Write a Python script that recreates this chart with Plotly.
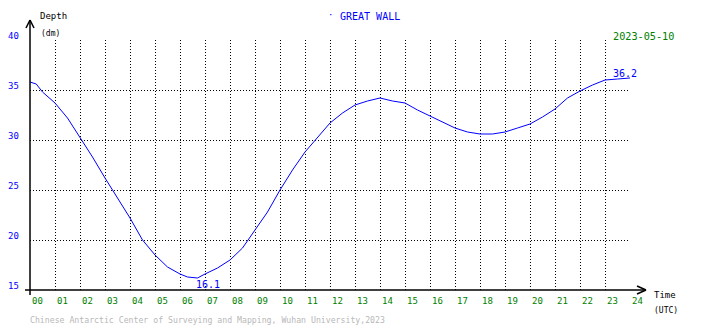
import plotly.graph_objects as go

# ---- data ----
hours = [0, 0.25, 0.5, 1, 1.5, 2, 2.5, 3, 3.5, 4, 4.5, 5, 5.5, 6, 6.3, 6.7, 7, 7.5, 8,
         8.5, 9, 9.5, 10, 10.5, 11, 11.5, 12, 12.5, 13, 13.5, 14, 14.5, 15, 15.5,
         16, 16.5, 17, 17.5, 18, 18.5, 19, 19.5, 20, 20.5, 21, 21.5, 22, 22.5, 23,
         23.5, 24]
depth = [35.8, 35.6, 34.8, 33.7, 32.2, 30.3, 28.3, 26.2, 24.2, 22.2, 20.0, 18.5, 17.3,
         16.6, 16.3, 16.2, 16.6, 17.2, 18.0, 19.2, 21.0, 22.8, 25.0, 27.0, 28.8, 30.3,
         31.7, 32.7, 33.5, 33.9, 34.2, 33.9, 33.7, 33.0, 32.4, 31.8, 31.2, 30.8, 30.6,
         30.6, 30.8, 31.2, 31.6, 32.3, 33.1, 34.2, 34.9, 35.5, 36.0, 36.1, 36.2]
x_tick_labels = ["%02d" % h for h in range(25)]
y_ticks = [15, 20, 25, 30, 35, 40]
min_label = ("16.1", 6.7, 16.1)
max_label = ("36.2", 24, 36.2)
title = "GREAT WALL"
date = "2023-05-10"
footer = "Chinese Antarctic Center of Surveying and Mapping, Wuhan University,2023"

# page body has an 8px default margin; lay out in window pixels and compensate
OFF = 8
W, H = 710 - OFF, 328 - OFF
L, R, T, B = 30, 630, 40, 290          # plot area in window pixels
FONT = "DejaVu Sans Mono"

def px(x):
    return (x - L) / (R - L)

def py(y):
    return (B - y) / (B - T)

fig = go.Figure()
fig.add_trace(go.Scatter(x=hours, y=depth, mode="lines",
                         line=dict(color="#0000ff", width=1), hoverinfo="skip"))

fig.update_layout(
    width=W, height=H,
    margin=dict(l=L - OFF, r=710 - R, t=T - OFF, b=328 - B, autoexpand=False),
    paper_bgcolor="white", plot_bgcolor="white", showlegend=False,
    xaxis=dict(range=[0, 24], dtick=1, tick0=0, showgrid=True, gridcolor="black",
               gridwidth=1, griddash="1px,2px", showticklabels=False, zeroline=False,
               showline=False, ticks=""),
    yaxis=dict(range=[15, 40], dtick=5, tick0=15, showgrid=True, gridcolor="black",
               gridwidth=1, griddash="1px,2px", showticklabels=False, zeroline=False,
               showline=False, ticks=""),
)

shapes = [
    # y axis with arrow
    dict(type="line", xref="paper", yref="paper", x0=px(30), x1=px(30), y0=py(295), y1=py(20)),
    dict(type="line", xref="paper", yref="paper", x0=px(26), x1=px(30), y0=py(28), y1=py(20)),
    dict(type="line", xref="paper", yref="paper", x0=px(34), x1=px(30), y0=py(28), y1=py(20)),
    # x axis with arrow
    dict(type="line", xref="paper", yref="paper", x0=px(25), x1=px(646), y0=py(290), y1=py(290)),
    dict(type="line", xref="paper", yref="paper", x0=px(637), x1=px(646), y0=py(286), y1=py(290)),
    dict(type="line", xref="paper", yref="paper", x0=px(637), x1=px(646), y0=py(294), y1=py(290)),
]
for s in shapes:
    s["line"] = dict(color="black", width=1.5)
fig.update_layout(shapes=shapes)

ann = []
for i, lab in enumerate(x_tick_labels):
    ann.append(dict(x=i, y=py(301), xref="x", yref="paper", text=lab, showarrow=False,
                    xanchor="left", yanchor="middle", xshift=0,
                    font=dict(family=FONT, size=9, color="#008000")))
for v in y_ticks:
    ann.append(dict(x=px(21), y=v, xref="paper", yref="y", text=str(v), showarrow=False,
                    xanchor="right", yanchor="bottom", yshift=-3,
                    font=dict(family=FONT, size=9, color="#0000ff")))

def text(x, y, t, color, size, xa="left"):
    ann.append(dict(x=px(x), y=py(y), xref="paper", yref="paper", text=t, showarrow=False,
                    xanchor=xa, yanchor="middle", font=dict(family=FONT, size=size, color=color)))

text(38, 16, "Depth", "black", 9)
text(39, 34, "(dm)", "black", 8)
text(652, 295, "Time", "black", 9)
text(652, 310, "(UTC)", "black", 8)
text(338, 17, title, "#0000ff", 10)
text(330, 15, "·", "#0000ff", 9, "center")
text(611, 37, date, "#008000", 10.2)
text(28, 320, footer, "#b8b8b8", 8.2)

ann.append(dict(x=min_label[1], y=min_label[2], xref="x", yref="y", text=min_label[0],
                showarrow=False, xanchor="left", yanchor="top", yshift=2, xshift=-4,
                font=dict(family=FONT, size=10, color="#0000ff")))
ann.append(dict(x=max_label[1], y=max_label[2], xref="x", yref="y", text=max_label[0],
                showarrow=False, xanchor="right", yanchor="bottom", yshift=-3, xshift=9,
                font=dict(family=FONT, size=10, color="#0000ff")))
fig.update_layout(annotations=ann)

fig.write_html("out.html")
